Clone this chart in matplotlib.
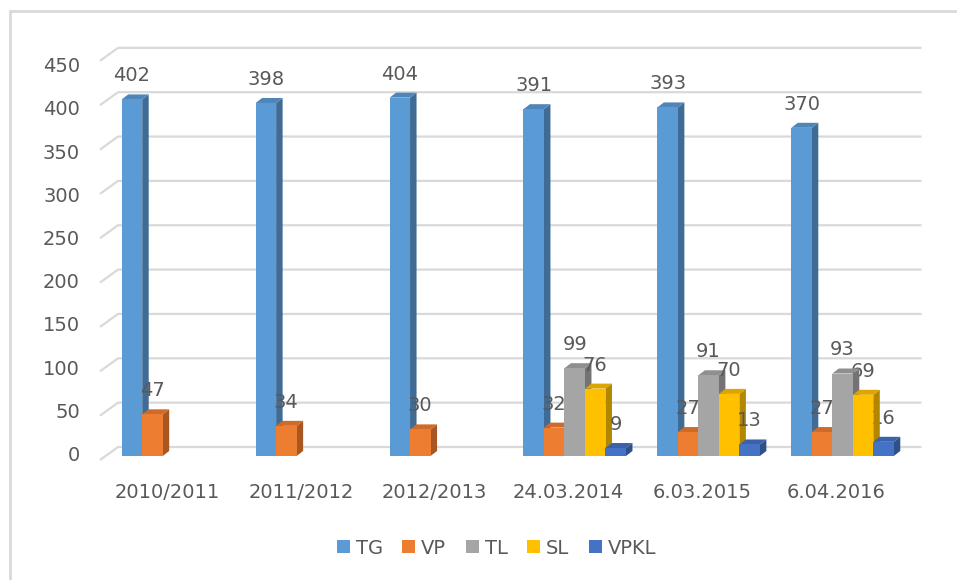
import matplotlib
matplotlib.use("Agg")
import matplotlib.pyplot as plt
from matplotlib.patches import Polygon, Rectangle, Patch
import matplotlib.transforms as mtransforms

categories = ['2010/2011', '2011/2012', '2012/2013', '24.03.2014', '6.03.2015', '6.04.2016']
series_names = ['TG', 'VP', 'TL', 'SL', 'VPKL']
TG = [402, 398, 404, 391, 393, 370]
VP = [47, 34, 30, 32, 27, 27]
TL = [None, None, None, 99, 91, 93]
SL = [None, None, None, 76, 70, 69]
VPKL = [None, None, None, 9, 13, 16]
yticks = [0, 50, 100, 150, 200, 250, 300, 350, 400, 450]

series = [TG, VP, TL, SL, VPKL]
front_colors = ['#5B9BD5', '#ED7D31', '#A5A5A5', '#FFC000', '#4472C4']
side_colors = ['#3F6B94', '#A85722', '#737373', '#B38600', '#2F5089']
top_colors = ['#4F86B9', '#CF6B2A', '#8F8F8F', '#DCA500', '#3B62A8']

TXT = '#595959'
FONT = 'DejaVu Sans'
FS = 14

W, H = 957, 580
fig = plt.figure(figsize=(W / 100, H / 100), dpi=100)

# pixel geometry
left_px, right_px = 100, 903.5
zero_px, px_per_unit = 460, 0.887
ax = fig.add_axes([left_px / W, (H - zero_px) / H, (right_px - left_px) / W, 450 * px_per_unit / H])
ax.set_xlim(-0.5, len(categories) - 0.5)
ax.set_ylim(0, 450)
ax.axis('off')

px_x = (right_px - left_px) / len(categories)
dxw, dyw = 18 / px_x, 13 / px_per_unit          # wall depth
bx, by = 6 / px_x, 4 / px_per_unit               # bar plane offset
ddx, ddy = 6.5 / px_x, 5 / px_per_unit           # bar depth
bw = 20.5 / px_x

# chart border
fig.add_artist(Rectangle((10 / W, -0.1), 1.2, (H - 11) / H + 0.1, transform=fig.transFigure,
                         fill=False, edgecolor='#D9D9D9', linewidth=2))

# gridlines (back wall + slanted side)
for v in yticks:
    ax.plot([-0.5, -0.5 + dxw, len(categories) - 0.5 + dxw], [v, v + dyw, v + dyw],
            color='#D9D9D9', linewidth=1.6, clip_on=False, zorder=1, solid_capstyle='butt')

# y tick labels (label column is slightly compressed relative to the plot plane)
ytrans = mtransforms.offset_copy(ax.transData, fig=fig, x=-20, y=-9, units='dots')
for v in yticks:
    ypos = (8 + 0.864 * v) / px_per_unit
    ax.text(-0.5, ypos, str(v), transform=ytrans, ha='right', va='baseline',
            fontsize=FS, color=TXT, family=FONT)

# x category labels
xtrans = mtransforms.offset_copy(ax.transData, fig=fig, x=0, y=-38, units='dots')
for i, c in enumerate(categories):
    ax.text(i, 0, c, transform=xtrans, ha='center', va='baseline',
            fontsize=FS, color=TXT, family=FONT)

# bars
z = 3
for i in range(len(categories)):
    for j, s in enumerate(series):
        v = s[i]
        if v is None:
            continue
        xc = i + bx + (j - 2) * bw
        x0, x1 = xc - bw / 2, xc + bw / 2
        y0, y1 = by, by + v
        ax.bar(xc, v, width=bw, bottom=by, color=front_colors[j], zorder=z, clip_on=False)
        ax.add_patch(Polygon([(x1, y0), (x1 + ddx, y0 + ddy), (x1 + ddx, y1 + ddy), (x1, y1)],
                             closed=True, facecolor=side_colors[j], edgecolor='none',
                             zorder=z - 0.5, clip_on=False))
        ax.add_patch(Polygon([(x0, y1), (x0 + ddx, y1 + ddy), (x1 + ddx, y1 + ddy), (x1, y1)],
                             closed=True, facecolor=top_colors[j], edgecolor='none',
                             zorder=z - 0.5, clip_on=False))
        ax.annotate(str(v), (xc, y1 + ddy), xytext=(0, 9.4), textcoords='offset points',
                    ha='center', va='baseline', fontsize=FS, color=TXT, family=FONT,
                    zorder=20, annotation_clip=False)
        z += 1

# legend
handles = [Patch(facecolor=c, edgecolor='none') for c in front_colors]
leg = fig.legend(handles, series_names, loc='center', bbox_to_anchor=(496.5 / W, (H - 548) / H),
                 ncol=5, frameon=False, handlelength=0.68, handleheight=0.68,
                 handletextpad=0.3, columnspacing=1.0, prop={'family': FONT, 'size': FS})
for t in leg.get_texts():
    t.set_color(TXT)

fig.savefig('out.png', dpi=100)
